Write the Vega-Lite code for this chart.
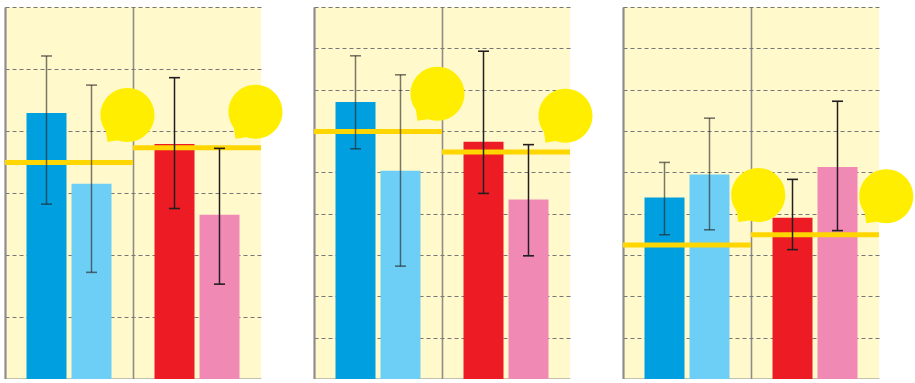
{
  "$schema": "https://vega.github.io/schema/vega-lite/v6.json",
  "autosize": {"type": "pad"},
  "bounds": "flush",
  "padding": {"left": 5, "top": 7, "right": 0, "bottom": 0},
  "spacing": 53,
  "config": {
    "view": {"fill": "#FFF9CC", "stroke": null},
    "axis": {"title": null, "labels": false, "ticks": false, "domainColor": "#8C8C8C", "domainWidth": 1.8}
  },
  "datasets": {
    "bars": [
      {"panel": "P1", "group": "G1", "bar": "A", "series": "S1", "value": 4.29, "lo": 2.82, "hi": 5.21},
      {"panel": "P1", "group": "G1", "bar": "B", "series": "S2", "value": 3.15, "lo": 1.72, "hi": 4.74},
      {"panel": "P1", "group": "G2", "bar": "A", "series": "S3", "value": 3.79, "lo": 2.75, "hi": 4.86},
      {"panel": "P1", "group": "G2", "bar": "B", "series": "S4", "value": 2.65, "lo": 1.53, "hi": 3.72},
      {"panel": "P2", "group": "G1", "bar": "A", "series": "S1", "value": 6.70, "lo": 5.57, "hi": 7.82},
      {"panel": "P2", "group": "G1", "bar": "B", "series": "S2", "value": 5.04, "lo": 2.73, "hi": 7.36},
      {"panel": "P2", "group": "G2", "bar": "A", "series": "S3", "value": 5.74, "lo": 4.49, "hi": 7.93},
      {"panel": "P2", "group": "G2", "bar": "B", "series": "S4", "value": 4.34, "lo": 2.98, "hi": 5.67},
      {"panel": "P3", "group": "G1", "bar": "A", "series": "S1", "value": 4.39, "lo": 3.49, "hi": 5.24},
      {"panel": "P3", "group": "G1", "bar": "B", "series": "S2", "value": 4.95, "lo": 3.61, "hi": 6.31},
      {"panel": "P3", "group": "G2", "bar": "A", "series": "S3", "value": 3.90, "lo": 3.13, "hi": 4.83},
      {"panel": "P3", "group": "G2", "bar": "B", "series": "S4", "value": 5.13, "lo": 3.59, "hi": 6.72}
    ],
    "refs": [
      {"panel": "P1", "group": "G1", "ref": 3.49, "bubble": 4.26},
      {"panel": "P1", "group": "G2", "ref": 3.73, "bubble": 4.31},
      {"panel": "P2", "group": "G1", "ref": 5.99, "bubble": 6.90},
      {"panel": "P2", "group": "G2", "ref": 5.49, "bubble": 6.37},
      {"panel": "P3", "group": "G1", "ref": 3.24, "bubble": 4.45},
      {"panel": "P3", "group": "G2", "ref": 3.49, "bubble": 4.42}
    ]
  },
  "hconcat": [
    {
      "width": 256, "height": 372,
      "layer": [
        {"data": {"name": "bars"}, "transform": [{"filter": "datum.panel === 'P1'"}],
         "mark": {"type": "bar"},
         "encoding": {
           "x": {"field": "group", "type": "nominal", "scale": {"domain": ["G1", "G2"], "paddingInner": 0, "paddingOuter": 0},
                 "axis": {"grid": true, "gridColor": "#8C8C8C", "gridWidth": 1.6, "gridOpacity": 1, "bandPosition": 0}},
           "y": {"field": "value", "type": "quantitative", "scale": {"domain": [0, 6], "nice": false},
                 "axis": {"values": [0, 1, 2, 3, 4, 5, 6], "grid": true, "gridColor": "#777777", "gridDash": [4, 3], "gridWidth": 1.2, "gridOpacity": 1}},
           "xOffset": {"field": "bar", "type": "nominal", "scale": {"paddingInner": 0.111, "paddingOuter": 0.478}},
           "color": {"field": "series", "type": "nominal", "legend": null, "scale": {"domain": ["S1", "S2", "S3", "S4"], "range": ["#00A0E0", "#6DCFF6", "#ED1C24", "#F189B5"]}}
         }},
        {"data": {"name": "refs"}, "transform": [{"filter": "datum.panel === 'P1'"}],
         "mark": {"type": "tick", "size": 128, "thickness": 5, "color": "#FFD600", "opacity": 1},
         "encoding": {"x": {"field": "group", "type": "nominal"}, "y": {"field": "ref", "type": "quantitative"}}},
        {"data": {"name": "bars"}, "transform": [{"filter": "datum.panel === 'P1'"}],
         "mark": {"type": "rule", "color": "#231F20", "strokeWidth": 1.5},
         "encoding": {
           "x": {"field": "group", "type": "nominal"},
           "y": {"field": "lo", "type": "quantitative"}, "y2": {"field": "hi"},
           "xOffset": {"field": "bar", "type": "nominal"},
           "opacity": {"condition": {"test": "datum.group === 'G1'", "value": 0.6}, "value": 1}
         }},
        {"data": {"name": "bars"}, "transform": [{"filter": "datum.panel === 'P1'"}, {"fold": ["lo", "hi"], "as": ["end", "endValue"]}],
         "mark": {"type": "tick", "color": "#231F20", "size": 11, "thickness": 1.6},
         "encoding": {
           "x": {"field": "group", "type": "nominal"},
           "y": {"field": "endValue", "type": "quantitative"},
           "xOffset": {"field": "bar", "type": "nominal"},
           "opacity": {"condition": {"test": "datum.group === 'G1'", "value": 0.6}, "value": 1}
         }},
        {"data": {"name": "refs"}, "transform": [{"filter": "datum.panel === 'P1'"}],
         "mark": {"type": "point", "filled": true, "color": "#FFEE00", "opacity": 1, "size": 2916, "xOffset": -5.5,
                  "shape": "M1,0 A1,1 0 1,1 -1,0 A1,1 0 1,1 1,0 Z M-0.35,0.94 Q-0.55,0.97 -0.74,1.0 L-0.8,0.6 Z"},
         "encoding": {"x": {"field": "group", "type": "nominal", "bandPosition": 1}, "y": {"field": "bubble", "type": "quantitative"}}}
      ]
    },
    {
      "width": 256, "height": 372,
      "layer": [
        {"data": {"name": "bars"}, "transform": [{"filter": "datum.panel === 'P2'"}],
         "mark": {"type": "bar"},
         "encoding": {
           "x": {"field": "group", "type": "nominal", "scale": {"domain": ["G1", "G2"], "paddingInner": 0, "paddingOuter": 0},
                 "axis": {"grid": true, "gridColor": "#8C8C8C", "gridWidth": 1.6, "gridOpacity": 1, "bandPosition": 0}},
           "y": {"field": "value", "type": "quantitative", "scale": {"domain": [0, 9], "nice": false},
                 "axis": {"values": [0, 1, 2, 3, 4, 5, 6, 7, 8, 9], "grid": true, "gridColor": "#777777", "gridDash": [4, 3], "gridWidth": 1.2, "gridOpacity": 1}},
           "xOffset": {"field": "bar", "type": "nominal", "scale": {"paddingInner": 0.111, "paddingOuter": 0.478}},
           "color": {"field": "series", "type": "nominal", "legend": null, "scale": {"domain": ["S1", "S2", "S3", "S4"], "range": ["#00A0E0", "#6DCFF6", "#ED1C24", "#F189B5"]}}
         }},
        {"data": {"name": "refs"}, "transform": [{"filter": "datum.panel === 'P2'"}],
         "mark": {"type": "tick", "size": 128, "thickness": 5, "color": "#FFD600", "opacity": 1},
         "encoding": {"x": {"field": "group", "type": "nominal"}, "y": {"field": "ref", "type": "quantitative"}}},
        {"data": {"name": "bars"}, "transform": [{"filter": "datum.panel === 'P2'"}],
         "mark": {"type": "rule", "color": "#231F20", "strokeWidth": 1.5},
         "encoding": {
           "x": {"field": "group", "type": "nominal"},
           "y": {"field": "lo", "type": "quantitative"}, "y2": {"field": "hi"},
           "xOffset": {"field": "bar", "type": "nominal"},
           "opacity": {"condition": {"test": "datum.group === 'G1'", "value": 0.6}, "value": 1}
         }},
        {"data": {"name": "bars"}, "transform": [{"filter": "datum.panel === 'P2'"}, {"fold": ["lo", "hi"], "as": ["end", "endValue"]}],
         "mark": {"type": "tick", "color": "#231F20", "size": 11, "thickness": 1.6},
         "encoding": {
           "x": {"field": "group", "type": "nominal"},
           "y": {"field": "endValue", "type": "quantitative"},
           "xOffset": {"field": "bar", "type": "nominal"},
           "opacity": {"condition": {"test": "datum.group === 'G1'", "value": 0.6}, "value": 1}
         }},
        {"data": {"name": "refs"}, "transform": [{"filter": "datum.panel === 'P2'"}],
         "mark": {"type": "point", "filled": true, "color": "#FFEE00", "opacity": 1, "size": 2916, "xOffset": -4.5,
                  "shape": "M1,0 A1,1 0 1,1 -1,0 A1,1 0 1,1 1,0 Z M-0.35,0.94 Q-0.55,0.97 -0.74,1.0 L-0.8,0.6 Z"},
         "encoding": {"x": {"field": "group", "type": "nominal", "bandPosition": 1}, "y": {"field": "bubble", "type": "quantitative"}}}
      ]
    },
    {
      "width": 256, "height": 372,
      "layer": [
        {"data": {"name": "bars"}, "transform": [{"filter": "datum.panel === 'P3'"}],
         "mark": {"type": "bar"},
         "encoding": {
           "x": {"field": "group", "type": "nominal", "scale": {"domain": ["G1", "G2"], "paddingInner": 0, "paddingOuter": 0},
                 "axis": {"grid": true, "gridColor": "#8C8C8C", "gridWidth": 1.6, "gridOpacity": 1, "bandPosition": 0}},
           "y": {"field": "value", "type": "quantitative", "scale": {"domain": [0, 9], "nice": false},
                 "axis": {"values": [0, 1, 2, 3, 4, 5, 6, 7, 8, 9], "grid": true, "gridColor": "#777777", "gridDash": [4, 3], "gridWidth": 1.2, "gridOpacity": 1}},
           "xOffset": {"field": "bar", "type": "nominal", "scale": {"paddingInner": 0.111, "paddingOuter": 0.478}},
           "color": {"field": "series", "type": "nominal", "legend": null, "scale": {"domain": ["S1", "S2", "S3", "S4"], "range": ["#00A0E0", "#6DCFF6", "#ED1C24", "#F189B5"]}}
         }},
        {"data": {"name": "refs"}, "transform": [{"filter": "datum.panel === 'P3'"}],
         "mark": {"type": "tick", "size": 128, "thickness": 5, "color": "#FFD600", "opacity": 1},
         "encoding": {"x": {"field": "group", "type": "nominal"}, "y": {"field": "ref", "type": "quantitative"}}},
        {"data": {"name": "bars"}, "transform": [{"filter": "datum.panel === 'P3'"}],
         "mark": {"type": "rule", "color": "#231F20", "strokeWidth": 1.5},
         "encoding": {
           "x": {"field": "group", "type": "nominal"},
           "y": {"field": "lo", "type": "quantitative"}, "y2": {"field": "hi"},
           "xOffset": {"field": "bar", "type": "nominal"},
           "opacity": {"condition": {"test": "datum.group === 'G1'", "value": 0.6}, "value": 1}
         }},
        {"data": {"name": "bars"}, "transform": [{"filter": "datum.panel === 'P3'"}, {"fold": ["lo", "hi"], "as": ["end", "endValue"]}],
         "mark": {"type": "tick", "color": "#231F20", "size": 11, "thickness": 1.6},
         "encoding": {
           "x": {"field": "group", "type": "nominal"},
           "y": {"field": "endValue", "type": "quantitative"},
           "xOffset": {"field": "bar", "type": "nominal"},
           "opacity": {"condition": {"test": "datum.group === 'G1'", "value": 0.6}, "value": 1}
         }},
        {"data": {"name": "refs"}, "transform": [{"filter": "datum.panel === 'P3'"}],
         "mark": {"type": "point", "filled": true, "color": "#FFEE00", "opacity": 1, "size": 2916, "xOffset": 7.3,
                  "shape": "M1,0 A1,1 0 1,1 -1,0 A1,1 0 1,1 1,0 Z M-0.35,0.94 Q-0.55,0.97 -0.74,1.0 L-0.8,0.6 Z"},
         "encoding": {"x": {"field": "group", "type": "nominal", "bandPosition": 1}, "y": {"field": "bubble", "type": "quantitative"}}}
      ]
    }
  ]
}
